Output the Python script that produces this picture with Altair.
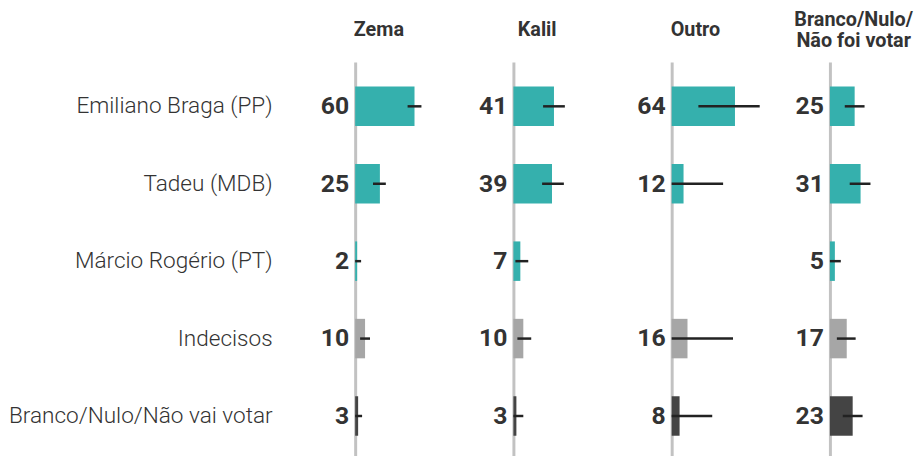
import altair as alt
import pandas as pd

candidatos = ["Emiliano Braga (PP)", "Tadeu (MDB)", "Márcio Rogério (PT)",
              "Indecisos", "Branco/Nulo/Não vai votar"]
tipos = ["cand", "cand", "cand", "indec", "branco"]
grupos = ["Zema", "Kalil", "Outro", "Branco/Nulo/Não foi votar"]
titulos = [["Zema"], ["Kalil"], ["Outro"], ["Branco/Nulo/", "Não foi votar"]]

valor_zema = [60, 25, 2, 10, 3]
valor_kalil = [41, 39, 7, 10, 3]
valor_outro = [64, 12, None, 16, 8]
valor_branco = [25, 31, 5, 17, 23]

min_zema = [53, 18, 0, 5, 0]
min_kalil = [30, 29, 2, 4, 0]
min_outro = [27, 0, None, 0, 0]
min_branco = [15, 20, 0, 7, 13]

max_zema = [67, 31, 6, 15, 7]
max_kalil = [52, 51, 15, 18, 10]
max_outro = [89, 52, None, 62, 41]
max_branco = [35, 41, 11, 26, 33]

valores = [valor_zema, valor_kalil, valor_outro, valor_branco]
minimos = [min_zema, min_kalil, min_outro, min_branco]
maximos = [max_zema, max_kalil, max_outro, max_branco]

rows = []
for g, vals, los, his in zip(grupos, valores, minimos, maximos):
    for c, t, v, lo, hi in zip(candidatos, tipos, vals, los, his):
        if v is None:
            continue
        rows.append({"grupo": g, "candidato": c, "tipo": t, "valor": v, "lo": lo, "hi": hi})
df = pd.DataFrame(rows)

color_scale = alt.Scale(domain=["cand", "indec", "branco"],
                        range=["#35b0ad", "#a6a6a6", "#444444"])

PW = 48
x_scale = alt.Scale(domain=[0, PW], nice=False, clamp=False)
y_scale = alt.Scale(domain=candidatos, paddingInner=0.49, paddingOuter=0.2875, align=0.555)
title_offsets = [12, 12, 12, 1]


def panel(i, g):
    base = alt.Chart(df).transform_filter(alt.datum.grupo == g)
    if i == 0:
        yaxis = alt.Axis(title=None, ticks=False, labelFont="Roboto", labelFontSize=22.8,
                         labelFontWeight=300, labelColor="#333333", labelPadding=84,
                         domainColor="#c2c2c2", domainWidth=3, labelLimit=400)
    else:
        yaxis = alt.Axis(title=None, ticks=False, labels=False,
                         domainColor="#c2c2c2", domainWidth=3)
    y = alt.Y("candidato:N", sort=candidatos, scale=y_scale, axis=yaxis)
    bars = base.mark_bar().encode(
        x=alt.X("valor:Q", scale=x_scale, axis=None),
        y=y,
        color=alt.Color("tipo:N", scale=color_scale, legend=None),
    )
    err = base.mark_rule(strokeWidth=2.5, color="#222222").encode(
        x=alt.X("lo:Q", scale=x_scale, axis=None),
        x2="hi:Q",
        y=alt.Y("candidato:N", sort=candidatos, scale=y_scale),
    )
    txt = base.mark_text(align="right", baseline="middle", dx=-6, font="Roboto",
                         fontSize=25, fontWeight="bold", color="#333333").encode(
        x=alt.value(0),
        y=alt.Y("candidato:N", sort=candidatos, scale=y_scale),
        text="valor:Q",
    )
    return alt.layer(bars, err, txt).properties(
        width=PW, height=398,
        title=alt.TitleParams(text=titulos[i], font="Roboto", fontSize=20, fontWeight="bold",
                              color="#333333", anchor="middle", baseline="middle",
                              lineHeight=21, offset=title_offsets[i]),
    )


chart = alt.hconcat(*[panel(i, g) for i, g in enumerate(grupos)], spacing=112,
                    bounds="flush").properties(
    padding={"left": 0, "top": 0, "right": 0, "bottom": 0}
).configure_view(stroke=None).resolve_scale(x="independent")

chart.save("out.html", embed_options={"renderer": "svg", "actions": False})
